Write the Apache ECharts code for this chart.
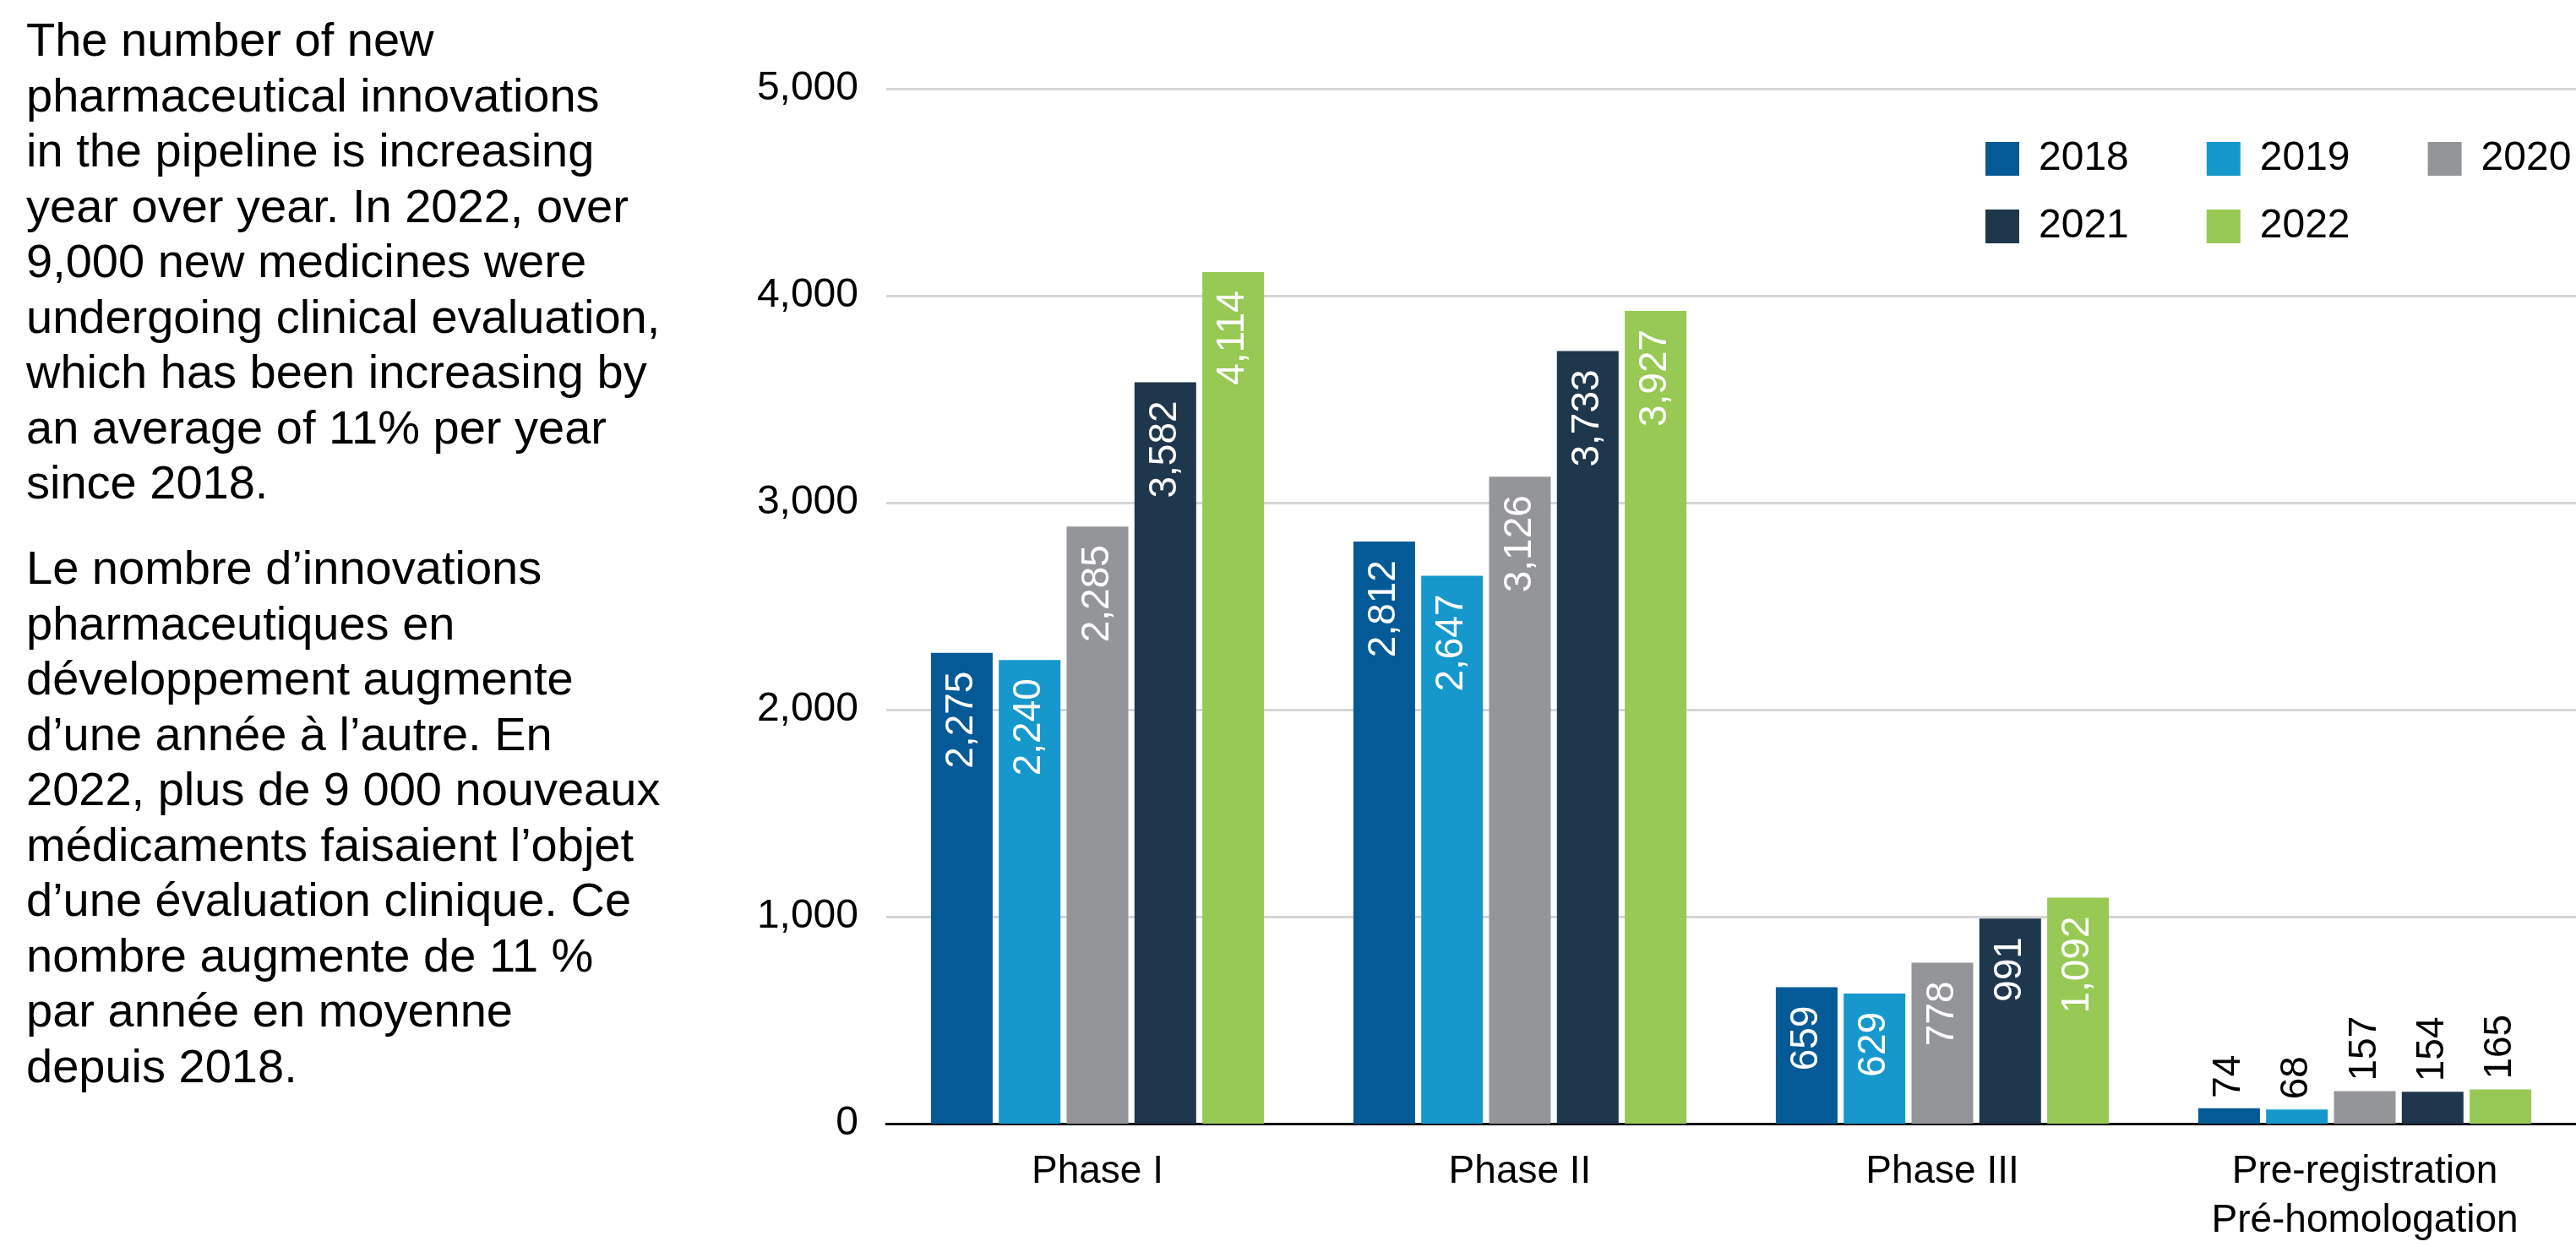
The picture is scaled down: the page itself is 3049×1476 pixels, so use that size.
<!DOCTYPE html>
<html>
<head>
<meta charset="utf-8">
<script src="https://cdn.jsdelivr.net/npm/echarts@6/dist/echarts.min.js"></script>
<style>
  html, body { margin: 0; padding: 0; background: #fff; }
  #chart { width: 3049px; height: 1476px; }
</style>
</head>
<body>
<div id="chart"></div>
<script>
// data
const categories = ['Phase I', 'Phase II', 'Phase III', 'Pre-registration\nPré-homologation']
const years = ['2018', '2019', '2020', '2021', '2022']
const values2018 = [2275, 2812, 659, 74]
const values2019 = [2240, 2647, 629, 68]
const values2020 = [2885, 3126, 778, 157]
const values2021 = [3582, 3733, 991, 154]
const values2022 = [4114, 3927, 1092, 165]
// the printed label on the Phase I 2020 bar differs from its height
const labels2020 = ['2,285', '3,126', '778', '157']
const yTicks = [0, 1000, 2000, 3000, 4000, 5000]

const colors = ['#035a96', '#1798cc', '#949598', '#1f374c', '#98c954']
const font = '"Liberation Sans", Arial, sans-serif'

const textEn = 'The number of new\npharmaceutical innovations\nin the pipeline is increasing\nyear over year. In 2022, over\n9,000 new medicines were\nundergoing clinical evaluation,\nwhich has been increasing by\nan average of 11% per year\nsince 2018.'
const textFr = 'Le nombre d\u2019innovations\npharmaceutiques en\ndéveloppement augmente\nd\u2019une année à l\u2019autre. En\n2022, plus de 9 000 nouveaux\nmédicaments faisaient l\u2019objet\nd\u2019une évaluation clinique. Ce\nnombre augmente de 11 %\npar année en moyenne\ndepuis 2018.'

const fmt = v => v.toLocaleString('en-US')

function makeSeries(name, values, color, labels) {
  return {
    name: name,
    type: 'bar',
    barWidth: 73,
    barGap: '10%',
    itemStyle: { color: color },
    data: values.map((v, i) => {
      const small = v < 300
      return {
        value: v,
        label: {
          show: true,
          rotate: 90,
          position: small ? 'top' : 'insideTop',
          align: small ? 'left' : 'right',
          verticalAlign: 'middle',
          distance: small ? 12 : 22,
          color: small ? '#000' : '#fff',
          fontSize: 46,
          fontFamily: font,
          formatter: () => labels ? labels[i] : fmt(v)
        }
      }
    })
  }
}

const myChart = echarts.init(document.getElementById('chart'))

const legendBase = {
  left: 2350,
  itemWidth: 40,
  itemHeight: 40,
  itemGap: 92,
  padding: 0,
  icon: 'rect',
  textStyle: { fontSize: 48, fontFamily: font, color: '#000', padding: [0, 0, 0, 18] }
}

myChart.setOption({
  animation: false,
  textStyle: { fontFamily: font },
  graphic: [
    {
      type: 'text', left: 31, top: 18,
      style: { text: textEn, fontSize: 56, lineHeight: 65.5, fontFamily: font, fill: '#000' }
    },
    {
      type: 'text', left: 31, top: 643,
      style: { text: textFr, fontSize: 56, lineHeight: 65.5, fontFamily: font, fill: '#000' }
    }
  ],
  legend: [
    Object.assign({}, legendBase, { top: 164, data: years.slice(0, 3) }),
    Object.assign({}, legendBase, { top: 244, data: years.slice(3) })
  ],
  grid: { left: 1049, right: 0, top: 105, bottom: 146 },
  xAxis: {
    type: 'category',
    data: categories,
    axisTick: { show: false },
    axisLine: { lineStyle: { color: '#000', width: 3 } },
    axisLabel: { fontSize: 46, lineHeight: 58, margin: 28, color: '#000', fontFamily: font }
  },
  yAxis: {
    type: 'value',
    min: yTicks[0],
    max: yTicks[yTicks.length - 1],
    interval: 1000,
    axisLine: { show: false },
    axisTick: { show: false },
    splitLine: { lineStyle: { color: '#d6d6d6', width: 3 } },
    axisLabel: { fontSize: 48, margin: 33, color: '#000', fontFamily: font, formatter: v => fmt(v) }
  },
  series: [
    makeSeries(years[0], values2018, colors[0]),
    makeSeries(years[1], values2019, colors[1]),
    makeSeries(years[2], values2020, colors[2], labels2020),
    makeSeries(years[3], values2021, colors[3]),
    makeSeries(years[4], values2022, colors[4])
  ]
})
</script>
</body>
</html>
